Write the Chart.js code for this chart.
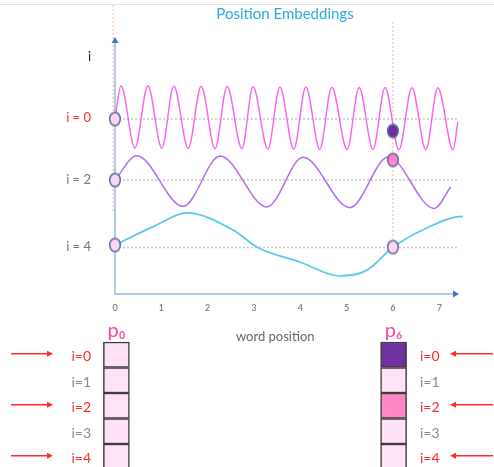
<!DOCTYPE html>
<html>
<head>
<meta charset="utf-8">
<script src="https://cdn.jsdelivr.net/npm/chart.js@4.4.1/dist/chart.umd.min.js"></script>
<style>
  body { margin: 0; background: #fff; }
  #wrap { position: relative; width: 494px; height: 467px; overflow: hidden; }
  #wrap canvas { position: absolute; left: 0; }
  #edge { position: absolute; left: 0; top: 4px; width: 494px; height: 1px; background: #e2e2e2; }
</style>
</head>
<body>
<div id="wrap">
  <div id="edge"></div>
  <canvas id="waves" width="494" height="467" style="top:0"></canvas>
  <canvas id="vectors" width="494" height="149" style="top:318px"></canvas>
</div>
<script>
// x = word position, y = height in plot units (axis = 0, top = 10)
var xTicks = [0, 1, 2, 3, 4, 5, 6, 7];
var levelNames = ['i', 'i = 0', 'i = 2', 'i = 4'];
var levelValues = [9.33, 6.93, 4.49, 1.85];
var levelColors = ['#222222', '#ff2a2a', '#777777', '#777777'];

// i = 0 : fast wave (peaks / troughs)
var pinkX = [0, 0.13, 0.43, 0.71, 1.01, 1.27, 1.58, 1.86, 2.16, 2.42, 2.74, 2.98, 3.30, 3.56,
             3.86, 4.12, 4.42, 4.68, 5.01, 5.27, 5.57, 5.83, 6.13, 6.41, 6.71, 6.97, 7.30, 7.40];
var pinkY = [6.89, 8.2, 5.75, 8.2, 5.74, 8.19, 5.73, 8.18, 5.72, 8.17, 5.72, 8.16, 5.71, 8.15,
             5.7, 8.15, 5.7, 8.14, 5.69, 8.13, 5.69, 8.13, 5.68, 8.12, 5.68, 8.12, 5.67, 6.77];
// i = 2
var purpleX = [0, 0.47, 1.47, 2.27, 3.28, 4.06, 5.07, 5.9, 6.89, 7.25];
var purpleY = [4.49, 5.44, 3.45, 5.43, 3.43, 5.38, 3.40, 5.39, 3.37, 4.22];
// i = 4
var blueX = [0, 0.86, 1.55, 2.55, 3.07, 3.99, 4.86, 5.44, 5.98, 6.73, 7.51, 7.81];
var blueY = [1.93, 2.68, 3.19, 2.52, 1.84, 1.26, 0.71, 0.94, 1.81, 2.60, 3.06, 2.99];

var guideY = [6.89, 4.49, 1.83];
var guideEnd = 7.4;

var markX = [-0.04, 6];
var markTop = [11.38, 10.71];
var markBottom = [3.19, 1.95];

var p0Y = [6.89, 4.49, 1.93];
var p6Y = [6.42, 5.28, 1.85];

// embedding vectors
var vectorNames = ['p\u2080', 'p\u2086'];
var vectorPos = [0, 6];
var dims = ['i=0', 'i=1', 'i=2', 'i=3', 'i=4'];
var dimColors = ['#ff2a2a', '#8a8a8a', '#ff2a2a', '#8a8a8a', '#ff2a2a'];
var arrowRows = [0, 2, 4];
var p0Cells = ['#ffe2f5', '#ffe2f5', '#ffe2f5', '#ffe2f5', '#ffe2f5'];
var p6Cells = ['#7030a0', '#ffe2f5', '#ff86c6', '#ffe2f5', '#ffe2f5'];
var p0Dots = ['#ffd6f6', '#ffd6f6', '#ffd6f6'];
var p6Dots = ['#7030a0', '#ff86c6', '#ffd6f6'];

function pts(xs, ys) {
  return xs.map(function (x, i) { return { x: x, y: ys[i] }; });
}

function marker(fill) {
  var c = document.createElement('canvas');
  c.width = 14; c.height = 17;
  var g = c.getContext('2d');
  g.beginPath();
  g.ellipse(7, 8.5, 5.3, 6.6, 0, 0, Math.PI * 2);
  g.fillStyle = fill; g.fill();
  g.lineWidth = 1.5; g.strokeStyle = '#5b6b9e'; g.stroke();
  return c;
}

function curve(xs, ys, color, w) {
  return { data: pts(xs, ys), borderColor: color, borderWidth: w, pointRadius: 0,
           cubicInterpolationMode: 'monotone', fill: false, clip: false, order: 2 };
}

function straight(a, b, color, w, dash) {
  return { data: [a, b], borderColor: color, borderWidth: w, borderDash: dash,
           pointRadius: 0, fill: false, clip: false, order: 5 };
}

var datasets = [
  { data: pts([0, 0, 0], p0Y), showLine: false, pointRadius: 6, pointStyle: p0Dots.map(marker), clip: false, order: 0 },
  { data: pts([6, 6, 6], p6Y), showLine: false, pointRadius: 6, pointStyle: p6Dots.map(marker), clip: false, order: 0 },
  curve(pinkX, pinkY, '#f862ee', 1.4),
  curve(purpleX, purpleY, '#b06ef0', 1.5),
  curve(blueX, blueY, '#5ac8f0', 1.8)
];
guideY.forEach(function (g) {
  datasets.push(straight({ x: 0, y: g }, { x: guideEnd, y: g }, '#c6c6c6', 1.5, [2, 2]));
});
markX.forEach(function (m, i) {
  datasets.push(straight({ x: m, y: markTop[i] }, { x: m, y: markBottom[i] }, '#f5b487', 1, [2, 2]));
});

var axisArrows = {
  id: 'axisArrows',
  afterDraw: function (chart) {
    var a = chart.chartArea, c = chart.ctx;
    c.save();
    c.fillStyle = '#4472c4';
    c.beginPath();
    c.moveTo(a.right + 4, a.bottom);
    c.lineTo(a.right - 2, a.bottom - 3.5);
    c.lineTo(a.right - 2, a.bottom + 3.5);
    c.fill();
    c.beginPath();
    c.moveTo(a.left, a.top - 3);
    c.lineTo(a.left - 3.5, a.top + 3);
    c.lineTo(a.left + 3.5, a.top + 3);
    c.fill();
    c.restore();
  }
};

new Chart(document.getElementById('waves'), {
  type: 'line',
  data: { datasets: datasets },
  options: {
    responsive: false,
    animation: false,
    events: [],
    layout: { padding: { left: 0, right: 39, top: 0, bottom: 0 } },
    plugins: {
      legend: { display: false },
      tooltip: { enabled: false },
      title: {
        display: true, text: 'Position Embeddings', color: '#29abe2', fullSize: false,
        font: { family: 'Lato', size: 15, weight: 'normal' }, padding: { top: 5, bottom: 17 }
      }
    },
    scales: {
      x: {
        type: 'linear', min: 0, max: 7.34,
        afterBuildTicks: function (s) { s.ticks = xTicks.map(function (v) { return { value: v }; }); },
        afterFit: function (s) { s.height = 173; s.paddingLeft = 0; s.paddingRight = 0; },
        grid: { display: false, drawTicks: false },
        border: { color: '#aecbee', width: 2 },
        ticks: { color: '#666', font: { family: 'Lato', size: 9 }, padding: 9, autoSkip: false, maxRotation: 0 },
        title: {
          display: true, text: 'word position\u2003\u2003', color: '#666',
          font: { family: 'Lato', size: 13 }, padding: { top: 0, bottom: 122 }
        }
      },
      y: {
        min: 0, max: 10,
        afterBuildTicks: function (s) { s.ticks = levelValues.map(function (v) { return { value: v }; }); },
        afterFit: function (s) { s.width = 115; s.paddingTop = 0; s.paddingBottom = 0; },
        grid: { display: false, drawTicks: false },
        border: { color: '#aecbee', width: 2 },
        ticks: {
          padding: 24, autoSkip: false,
          color: function (ctx) { return levelColors[ctx.index]; },
          font: { family: 'Lato', size: 13 },
          callback: function (v, i) { return levelNames[i]; }
        }
      }
    }
  },
  plugins: [axisArrows]
});

function arrow(c, tail, head, y) {
  var dir = head > tail ? 1 : -1;
  c.beginPath();
  c.moveTo(tail, y);
  c.lineTo(head - dir * 5, y);
  c.stroke();
  c.beginPath();
  c.moveTo(head, y);
  c.lineTo(head - dir * 6, y - 3);
  c.lineTo(head - dir * 6, y + 3);
  c.fill();
}

var rowArrows = {
  id: 'rowArrows',
  afterDraw: function (chart) {
    var a = chart.chartArea, y = chart.scales.y, c = chart.ctx;
    c.save();
    c.strokeStyle = '#ff2a2a'; c.fillStyle = '#ff2a2a'; c.lineWidth = 1.5;
    arrowRows.forEach(function (k) {
      var py = y.getPixelForValue(k + 0.58) - 3;
      arrow(c, a.left - 92, a.left - 50, py);
      arrow(c, a.right + 86, a.right + 43, py);
    });
    c.restore();
  }
};

function cells(pos, colors) {
  return {
    data: dims.map(function (d, k) { return { x: pos, y: [k, k + 1] }; }),
    backgroundColor: colors, borderColor: '#3c3c3c', borderWidth: 1.5,
    borderSkipped: false, barThickness: 26, grouped: false, clip: false
  };
}

function dimAxis(pos, width, pad) {
  return {
    position: pos, min: 0, max: 4.9, reverse: true,
    afterBuildTicks: function (s) { s.ticks = dims.map(function (d, k) { return { value: k + 0.58 }; }); },
    afterFit: function (s) { s.width = width; s.paddingTop = 0; s.paddingBottom = 0; },
    grid: { display: false, drawTicks: false },
    border: { display: false },
    ticks: {
      padding: pad, autoSkip: false,
      color: function (ctx) { return dimColors[ctx.index]; },
      font: { family: 'Lato', size: 14 },
      callback: function (v, i) { return dims[i]; }
    }
  };
}

new Chart(document.getElementById('vectors'), {
  type: 'bar',
  data: { datasets: [cells(vectorPos[0], p0Cells), cells(vectorPos[1], p6Cells)] },
  options: {
    responsive: false,
    animation: false,
    events: [],
    layout: { padding: 0 },
    plugins: { legend: { display: false }, tooltip: { enabled: false } },
    scales: {
      x: {
        type: 'linear', position: 'top', min: -0.29, max: 6.29, offset: false,
        afterBuildTicks: function (s) { s.ticks = vectorPos.map(function (v) { return { value: v }; }); },
        afterFit: function (s) { s.height = 24; s.paddingLeft = 0; s.paddingRight = 0; },
        grid: { display: false, drawTicks: false },
        border: { display: false },
        ticks: {
          padding: -1, autoSkip: false, maxRotation: 0, color: '#f4479e',
          font: { family: 'Lato', size: 20 },
          callback: function (v, i) { return vectorNames[i]; }
        }
      },
      y: dimAxis('left', 103, 12),
      y2: dimAxis('right', 87, 13)
    }
  },
  plugins: [rowArrows]
});
</script>
</body>
</html>
